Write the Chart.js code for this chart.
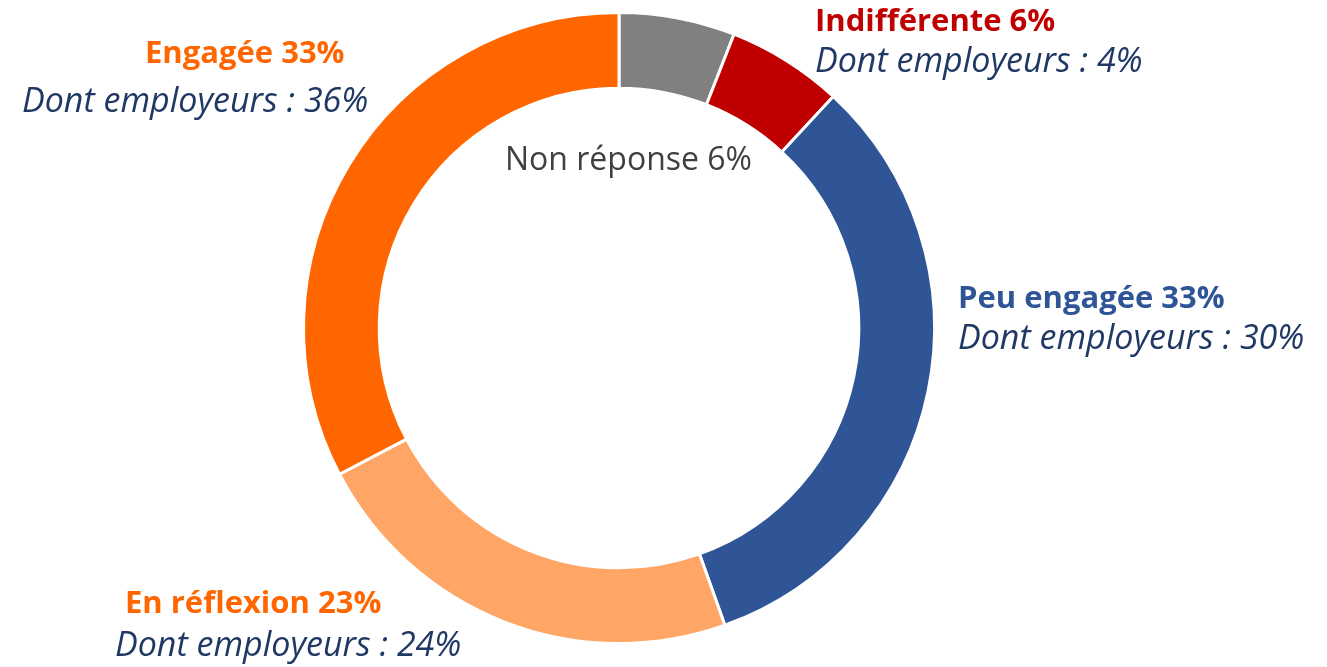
<!DOCTYPE html>
<html>
<head>
<meta charset="utf-8">
<script src="https://cdn.jsdelivr.net/npm/chart.js@4.4.0/dist/chart.umd.min.js"></script>
<style>
  html, body { margin: 0; padding: 0; background: #fff; }
  #wrap { width: 1327px; height: 667px; position: relative; }
</style>
</head>
<body>
<div id="wrap"><canvas id="donut"></canvas></div>
<script>
// data
const categories = ['Non réponse', 'Indifférente', 'Peu engagée', 'En réflexion', 'Engagée'];
const shares = [6, 6, 33, 23, 33];
const employerShares = [null, 4, 30, 24, 36];
const sliceColors = ['#808080', '#C00000', '#2F5597', '#FFA566', '#FF6600'];

// label placement, relative to the doughnut centre (in px)
const labelStyle = [
  { color: '#404040', bold: false, dx: -114, dy: -158 },
  { color: '#C00000', bold: true, dx: 196, dy: -297 },
  { color: '#2F5597', bold: true, dx: 339, dy: -20 },
  { color: '#FF6600', bold: true, dx: -494, dy: 285 },
  { color: '#FF6600', bold: true, dx: -474, dy: -265 }
];
const subStyle = [
  null,
  { dx: 196, dy: -256 },
  { dx: 339, dy: 21 },
  { dx: -504, dy: 328 },
  { dx: -597, dy: -216 }
];

const FONT = '"Open Sans", sans-serif';

const labelsPlugin = {
  id: 'sliceLabels',
  afterDraw(chart) {
    const ctx = chart.ctx;
    const arc = chart.getDatasetMeta(0).data[0];
    const cx = arc.x, cy = arc.y;
    ctx.save();
    ctx.textAlign = 'left';
    ctx.textBaseline = 'alphabetic';
    categories.forEach((name, i) => {
      const st = labelStyle[i];
      ctx.fillStyle = st.color;
      ctx.font = (st.bold ? 'bold 31px ' : '32px ') + FONT;
      ctx.fillText(name + ' ' + shares[i] + '%', cx + st.dx, cy + st.dy);
      if (employerShares[i] !== null) {
        const sub = subStyle[i];
        ctx.fillStyle = '#203864';
        ctx.font = 'italic 34px ' + FONT;
        ctx.fillText('Dont employeurs : ' + employerShares[i] + '%', cx + sub.dx, cy + sub.dy);
      }
    });
    ctx.restore();
  }
};

new Chart(document.getElementById('donut'), {
  type: 'doughnut',
  data: {
    labels: categories,
    datasets: [{
      data: shares,
      backgroundColor: sliceColors,
      borderColor: '#ffffff',
      borderWidth: 3,
      hoverOffset: 0
    }]
  },
  options: {
    responsive: true,
    maintainAspectRatio: false,
    animation: false,
    cutout: '76%',
    layout: { padding: { top: 11, bottom: 22, left: 302, right: 391 } },
    plugins: {
      legend: { display: false },
      tooltip: { enabled: false }
    }
  },
  plugins: [labelsPlugin]
});
</script>
</body>
</html>
